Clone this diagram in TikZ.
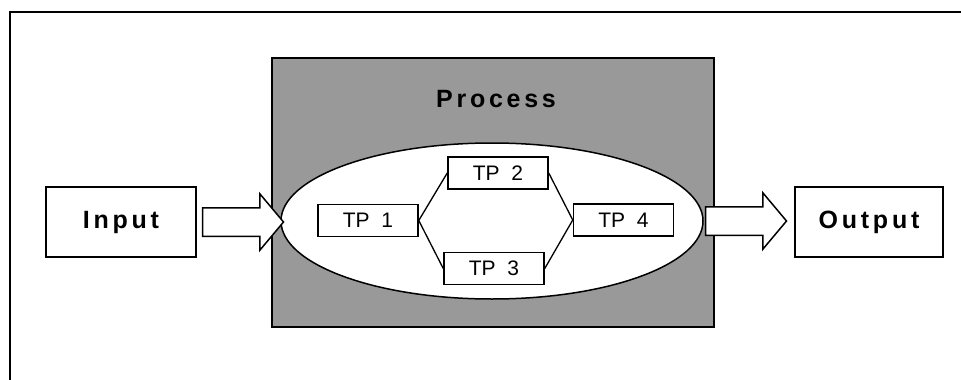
\documentclass[tikz,border=0pt]{standalone}
\usepackage{fontspec}
\setmainfont{Liberation Sans}
\newfontfamily\widefont[LetterSpace=15]{Liberation Sans}
\usetikzlibrary{positioning,shapes.geometric,shapes.arrows}
\definecolor{procgray}{RGB}{153,153,153}
\tikzset{>=latex}
\tikzset{
  io/.style={draw, line width=1.5pt, fill=white, minimum width=150pt, minimum height=70pt, inner sep=0pt, font=\widefont\bfseries\fontsize{25}{30}\selectfont},
  tpbox/.style={draw, line width=1.5pt, fill=white, minimum width=100pt, minimum height=32pt, inner sep=0pt, font=\fontsize{21}{25}\selectfont},
  fatarrow/.style={draw, single arrow, line width=1.5pt, fill=white, minimum height=81pt, text height=27pt, text depth=0pt, single arrow head extend=14pt, single arrow tip angle=100, inner sep=0pt},
  link/.style={line width=1.3pt},
}

\begin{document}
\begin{tikzpicture}[x=1pt, y=-1pt]
  \useasboundingbox (0,0) rectangle (961,380);
  \draw[line width=1.5pt] (10,400) -- (10,12) -- (980,12);
  \node[draw, line width=1.5pt, fill=procgray, minimum width=442pt, minimum height=269pt, inner sep=0pt] (proc) at (493,192.5) {};
  \node[anchor=base, font=\widefont\bfseries\fontsize{25}{30}\selectfont] (ptitle) at (496,107) {Process};
  \node[draw, ellipse, line width=1.5pt, fill=white, minimum width=422pt, minimum height=156pt, inner sep=0pt] (ell) at (492,221) {};
  \node[io] (inp) at (121,222) {Input};
  \node[io, minimum width=148pt] (outp) at (869,222) {Output};
  \node[tpbox] (tp1) at (368,220.5) {TP\ \ 1};
  \node[tpbox] (tp2) at (498,173) {TP\ \ 2};
  \node[tpbox] (tp3) at (494,268.5) {TP\ \ 3};
  \node[tpbox] (tp4) at (623.5,220) {TP\ \ 4};
  \node[fatarrow, right=5pt of inp] (arrin) {};
  \node[fatarrow, right=1pt of ell] (arrout) {};
  \draw[link] (tp1.east) -- (tp2.west);
  \draw[link] (tp1.east) -- (tp3.west);
  \draw[link] (tp2.east) -- (tp4.west);
  \draw[link] (tp3.east) -- (tp4.west);
\end{tikzpicture}
\end{document}
